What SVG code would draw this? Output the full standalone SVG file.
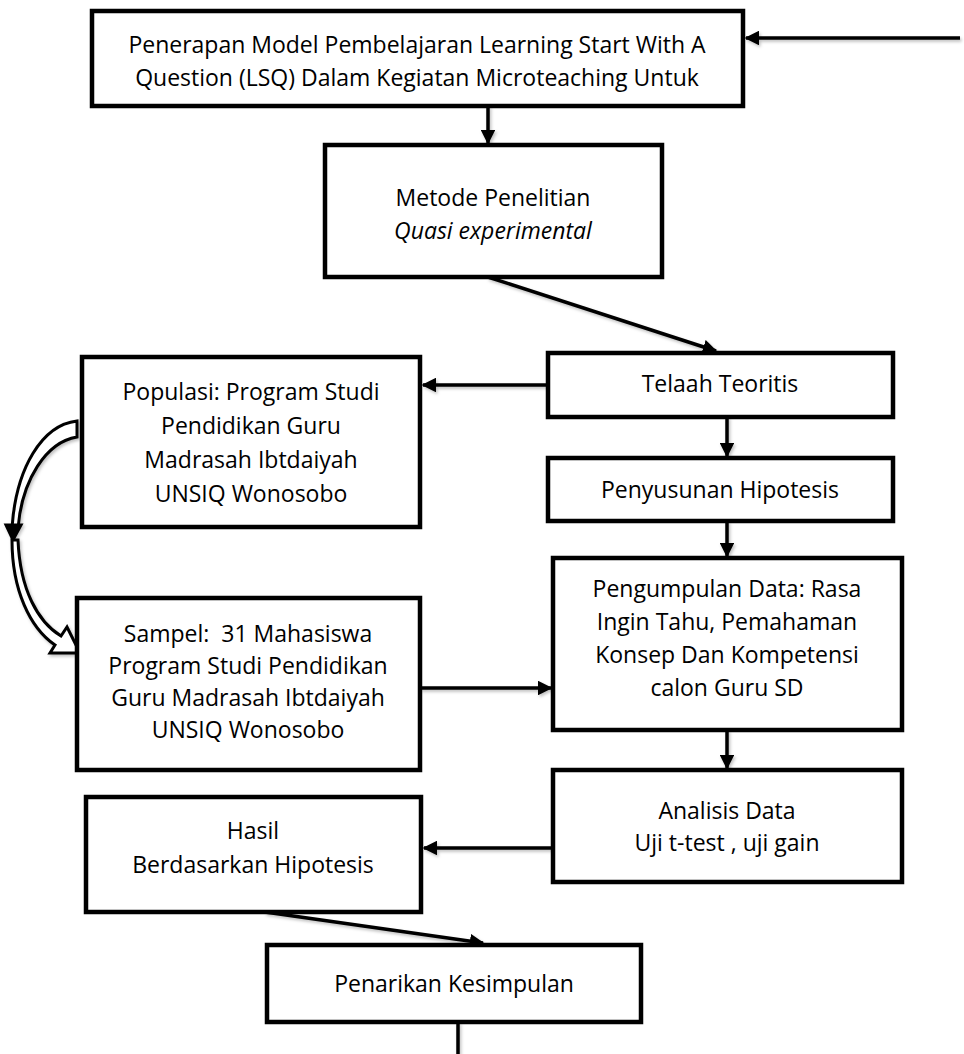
<svg xmlns="http://www.w3.org/2000/svg" width="964" height="1054" viewBox="0 0 964 1054">
<style>
.box{fill:#fff;stroke:#000;stroke-width:4.5}
.t{font-family:"Open Sans","Liberation Sans",sans-serif;font-size:23px;fill:#000;text-anchor:middle;white-space:pre}
.i{font-style:italic}
.c{stroke:#000;stroke-width:3.5;fill:none}
</style>
<defs>
<marker id="ah" viewBox="0 0 10 10" refX="9" refY="5" markerWidth="4.2" markerHeight="4.2" orient="auto" markerUnits="strokeWidth">
<path d="M0,0 L10,5 L0,10 Z" fill="#000"/>
</marker>
<filter id="sh" x="-20%" y="-20%" width="140%" height="140%">
<feDropShadow dx="1.5" dy="2" stdDeviation="1.5" flood-color="#000" flood-opacity="0.25"/>
</filter>
</defs>

<g id="connectors" filter="url(#sh)">
<line class="c" x1="960" y1="38" x2="746" y2="38" marker-end="url(#ah)"/>
<line class="c" x1="488" y1="106" x2="488" y2="143" marker-end="url(#ah)"/>
<line class="c" x1="488" y1="277" x2="716" y2="351" marker-end="url(#ah)"/>
<line class="c" x1="548" y1="385" x2="423" y2="385" marker-end="url(#ah)"/>
<line class="c" x1="727" y1="417" x2="727" y2="456" marker-end="url(#ah)"/>
<line class="c" x1="727" y1="521" x2="727" y2="556" marker-end="url(#ah)"/>
<line class="c" x1="420" y1="688" x2="551" y2="688" marker-end="url(#ah)"/>
<line class="c" x1="727" y1="730" x2="727" y2="768" marker-end="url(#ah)"/>
<line class="c" x1="553" y1="848" x2="424" y2="848" marker-end="url(#ah)"/>
<line class="c" x1="265" y1="912" x2="483" y2="943" marker-end="url(#ah)"/>
<line class="c" x1="458" y1="1022" x2="458" y2="1054"/>
<g id="curved-arrow" stroke="#000" stroke-width="3" fill="#fff" stroke-linejoin="miter">
<path d="M77,421 C42,425 16,468 12,528 L18,528 C22,480 46,442 77,437 Z"/>
<path d="M6,525 L21,525 L13,540 Z" fill="#000"/>
<path d="M12,540 C12,590 30,628 55,645 L50,653 L80,653 L67,627 L61,636 C38,622 20,590 18,540 Z"/>
</g>
</g>

<g id="n-top">
<rect class="box" x="92" y="11" width="651" height="95"/>
<text class="t" x="417" y="53">Penerapan Model Pembelajaran Learning Start With A</text>
<text class="t" x="417" y="86">Question (LSQ) Dalam Kegiatan Microteaching Untuk</text>
</g>
<g id="n-metode">
<rect class="box" x="325" y="145" width="337" height="132"/>
<text class="t" x="493" y="206">Metode Penelitian</text>
<text class="t i" x="493" y="239">Quasi experimental</text>
</g>
<g id="n-telaah">
<rect class="box" x="548" y="353" width="345" height="64"/>
<text class="t" x="720" y="392">Telaah Teoritis</text>
</g>
<g id="n-populasi">
<rect class="box" x="82" y="357" width="338" height="170"/>
<text class="t" x="251" y="400">Populasi: Program Studi</text>
<text class="t" x="251" y="434">Pendidikan Guru</text>
<text class="t" x="251" y="468">Madrasah Ibtdaiyah</text>
<text class="t" x="251" y="502">UNSIQ Wonosobo</text>
</g>
<g id="n-penyusunan">
<rect class="box" x="548" y="458" width="345" height="63"/>
<text class="t" x="720" y="498">Penyusunan Hipotesis</text>
</g>
<g id="n-pengumpulan">
<rect class="box" x="553" y="558" width="349" height="172"/>
<text class="t" x="727" y="597">Pengumpulan Data: Rasa</text>
<text class="t" x="727" y="630">Ingin Tahu, Pemahaman</text>
<text class="t" x="727" y="663">Konsep Dan Kompetensi</text>
<text class="t" x="727" y="696">calon Guru SD</text>
</g>
<g id="n-sampel">
<rect class="box" x="77" y="598" width="343" height="172"/>
<text class="t" x="248" y="642" xml:space="preserve">Sampel:  31 Mahasiswa</text>
<text class="t" x="248" y="674">Program Studi Pendidikan</text>
<text class="t" x="248" y="706">Guru Madrasah Ibtdaiyah</text>
<text class="t" x="248" y="738">UNSIQ Wonosobo</text>
</g>
<g id="n-analisis">
<rect class="box" x="553" y="770" width="349" height="112"/>
<text class="t" x="727" y="819">Analisis Data</text>
<text class="t" x="727" y="851">Uji t-test , uji gain</text>
</g>
<g id="n-hasil">
<rect class="box" x="86" y="797" width="335" height="115"/>
<text class="t" x="253" y="839">Hasil</text>
<text class="t" x="253" y="873">Berdasarkan Hipotesis</text>
</g>
<g id="n-penarikan">
<rect class="box" x="267" y="945" width="374" height="77"/>
<text class="t" x="454" y="992">Penarikan Kesimpulan</text>
</g>
</svg>
